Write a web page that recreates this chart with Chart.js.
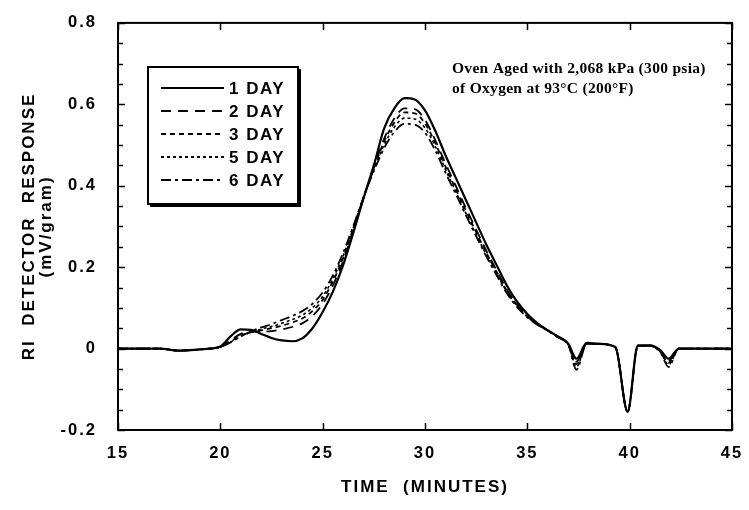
<!DOCTYPE html>
<html>
<head>
<meta charset="utf-8">
<script src="https://cdn.jsdelivr.net/npm/chart.js@4"></script>
<style>
  html, body { margin: 0; padding: 0; background: #fff; }
  #wrap { width: 749px; height: 510px; }
</style>
</head>
<body>
<div id="wrap"><canvas id="riChart" width="749" height="510"></canvas></div>
<script>
// retention time, minutes
const minutes = [15, 16, 17, 18, 19, 19.5, 20, 20.5, 21, 21.5, 22, 22.5, 23, 23.5, 24, 24.5, 25, 25.5,
  26, 26.5, 27, 27.5, 28, 28.5, 29, 29.5, 30, 30.5, 31, 31.5, 32, 32.5, 33, 33.5, 34, 34.5, 35, 35.5,
  36, 36.5, 37, 37.4, 37.9, 38.5, 39.3, 39.9, 40.4, 41, 41.5, 41.9, 42.4, 43, 44, 45];

// RI detector response (mV/gram) per ageing time
const day1 = [0, 0, 0, -0.005, -0.002, 0, 0.005, 0.03, 0.047, 0.046, 0.036, 0.026, 0.02, 0.018, 0.025, 0.05, 0.09, 0.14,
  0.205, 0.285, 0.37, 0.45, 0.54, 0.59, 0.615, 0.612, 0.585, 0.535, 0.475, 0.42, 0.365, 0.31, 0.255, 0.205, 0.155, 0.115, 0.085, 0.062,
  0.045, 0.03, 0.012, -0.025, 0.014, 0.012, 0.004, -0.155, 0.008, 0.008, -0.004, -0.025, 0, 0, 0, 0];
const day2 = [0, 0, 0, -0.005, -0.002, 0, 0.004, 0.02, 0.036, 0.042, 0.042, 0.043, 0.047, 0.053, 0.062, 0.08, 0.11, 0.155,
  0.215, 0.29, 0.37, 0.445, 0.515, 0.565, 0.59, 0.588, 0.562, 0.512, 0.455, 0.4, 0.345, 0.292, 0.24, 0.192, 0.145, 0.108, 0.08, 0.06,
  0.044, 0.028, 0.01, -0.032, 0.012, 0.011, 0.003, -0.155, 0.006, 0.007, -0.006, -0.03, 0, 0, 0, 0];
const day3 = [0, 0, 0, -0.005, -0.002, 0, 0.004, 0.018, 0.032, 0.04, 0.045, 0.05, 0.056, 0.064, 0.074, 0.092, 0.12, 0.165,
  0.222, 0.295, 0.372, 0.443, 0.508, 0.555, 0.58, 0.578, 0.553, 0.505, 0.447, 0.392, 0.338, 0.286, 0.235, 0.188, 0.142, 0.106, 0.079, 0.06,
  0.044, 0.028, 0.01, -0.038, 0.012, 0.011, 0.003, -0.155, 0.006, 0.007, -0.007, -0.035, 0, 0, 0, 0];
const day5 = [0, 0, 0, -0.005, -0.002, 0, 0.004, 0.016, 0.03, 0.04, 0.048, 0.054, 0.062, 0.071, 0.082, 0.1, 0.128, 0.172,
  0.228, 0.298, 0.372, 0.44, 0.5, 0.544, 0.566, 0.564, 0.542, 0.497, 0.44, 0.386, 0.332, 0.28, 0.23, 0.184, 0.139, 0.104, 0.078, 0.059,
  0.044, 0.028, 0.01, -0.045, 0.012, 0.011, 0.003, -0.155, 0.006, 0.007, -0.008, -0.04, 0, 0, 0, 0];
const day6 = [0, 0, 0, -0.005, -0.002, 0, 0.004, 0.015, 0.03, 0.042, 0.052, 0.06, 0.07, 0.08, 0.092, 0.11, 0.138, 0.18,
  0.235, 0.302, 0.372, 0.436, 0.492, 0.532, 0.552, 0.55, 0.53, 0.487, 0.432, 0.38, 0.327, 0.276, 0.226, 0.18, 0.136, 0.102, 0.077, 0.058,
  0.044, 0.028, 0.01, -0.052, 0.012, 0.011, 0.003, -0.155, 0.006, 0.007, -0.009, -0.045, 0, 0, 0, 0];

const seriesNames = ['1 DAY', '2 DAY', '3 DAY', '5 DAY', '6 DAY'];
const seriesValues = [day1, day2, day3, day5, day6];
const dashes = [[], [10, 7], [5, 4], [3, 3], [10, 4, 3, 4]];
const widths = [2.2, 1.8, 1.8, 1.6, 1.8];

const xTicks = [15, 20, 25, 30, 35, 40, 45];
const noteLines = ['Oven Aged with 2,068 kPa (300 psia)', 'of Oxygen at 93\u00B0C (200\u00B0F)'];

const inkFont = '"Liberation Sans", Arial, sans-serif';

function toPoints(values) {
    return values.map((v, i) => ({ x: minutes[i], y: v }));
}

// frame, inward ticks, legend box and the note text
const framePlugin = {
    id: 'frame',
    beforeDraw(chart) {
        chart.ctx.letterSpacing = '2px';
    },
    afterDraw(chart) {
        const ctx = chart.ctx;
        const area = chart.chartArea;
        const xs = chart.scales.x;
        const ys = chart.scales.y;
        ctx.save();
        ctx.letterSpacing = '0px';
        ctx.strokeStyle = '#000';
        ctx.lineWidth = 2;
        ctx.strokeRect(area.left, area.top, area.right - area.left, area.bottom - area.top);

        ctx.lineWidth = 1.5;
        ctx.beginPath();
        for (let i = 0; i <= 20; i++) {
            const v = -0.2 + i * 0.05;
            const py = Math.round(ys.getPixelForValue(v)) + 0.5;
            const len = (i % 4 === 0) ? 7 : 5;
            ctx.moveTo(area.left, py); ctx.lineTo(area.left + len, py);
            ctx.moveTo(area.right, py); ctx.lineTo(area.right - len, py);
        }
        for (let i = 0; i < xTicks.length; i++) {
            const px = Math.round(xs.getPixelForValue(xTicks[i])) + 0.5;
            ctx.moveTo(px, area.bottom); ctx.lineTo(px, area.bottom - 7);
            ctx.moveTo(px, area.top); ctx.lineTo(px, area.top + 7);
        }
        ctx.stroke();

        // legend box with a heavy shadow edge
        const bx = 148, by = 67, bw = 150, bh = 137;
        ctx.fillStyle = '#fff';
        ctx.fillRect(bx, by, bw, bh);
        ctx.lineWidth = 2;
        ctx.strokeRect(bx, by, bw, bh);
        ctx.fillStyle = '#000';
        ctx.fillRect(bx + 2, by + bh, bw, 3);
        ctx.fillRect(bx + bw, by + 2, 3, bh + 1);

        ctx.font = 'bold 17px ' + inkFont;
        ctx.textBaseline = 'middle';
        ctx.letterSpacing = '1.5px';
        chart.data.datasets.forEach((ds, i) => {
            const ly = by + 21 + i * 23;
            ctx.setLineDash(ds.borderDash);
            ctx.lineWidth = 2;
            ctx.beginPath();
            ctx.moveTo(161, ly);
            ctx.lineTo(224, ly);
            ctx.stroke();
            ctx.setLineDash([]);
            ctx.fillText(ds.label, 229, ly + 1);
        });

        ctx.letterSpacing = '0.3px';
        ctx.font = 'bold 15.5px "Liberation Serif", "Times New Roman", serif';
        ctx.textBaseline = 'middle';
        noteLines.forEach((t, i) => ctx.fillText(t, 452, 69 + i * 20));
        ctx.restore();
    }
};

Chart.defaults.color = '#000';
Chart.defaults.font.family = inkFont;

new Chart(document.getElementById('riChart'), {
    type: 'line',
    data: {
        datasets: seriesNames.map((name, i) => ({
            label: name,
            data: toPoints(seriesValues[i]),
            borderColor: '#000',
            borderWidth: widths[i],
            borderDash: dashes[i],
            pointRadius: 0,
            cubicInterpolationMode: 'monotone',
            fill: false
        }))
    },
    options: {
        responsive: false,
        animation: false,
        layout: { padding: { left: 0, top: 20, right: 17, bottom: 0 } },
        plugins: { legend: { display: false }, tooltip: { enabled: false } },
        scales: {
            x: {
                type: 'linear',
                min: 15,
                max: 45,
                afterFit(scale) { scale.height = 80; },
                afterBuildTicks(scale) { scale.ticks = xTicks.map(v => ({ value: v })); },
                grid: { display: false },
                border: { display: false },
                ticks: { padding: 6, font: { size: 16.5, weight: 'bold' }, maxRotation: 0 },
                title: {
                    display: true,
                    text: 'TIME  (MINUTES)',
                    font: { size: 17, weight: 'bold' },
                    padding: { top: 0, bottom: 12 }
                }
            },
            y: {
                min: -0.2,
                max: 0.8,
                afterFit(scale) { scale.width = 118; },
                grid: { display: false },
                border: { display: false },
                ticks: {
                    stepSize: 0.2,
                    padding: 13,
                    font: { size: 16.5, weight: 'bold' },
                    callback: v => Math.abs(v) < 1e-9 ? '0' : v.toFixed(1)
                },
                title: {
                    display: true,
                    text: ['RI  DETECTOR  RESPONSE', '(mV/gram)'],
                    font: { size: 17, weight: 'bold', lineHeight: 1.05 },
                    padding: { top: 20, bottom: 0 }
                }
            }
        }
    },
    plugins: [framePlugin]
});
</script>
</body>
</html>
